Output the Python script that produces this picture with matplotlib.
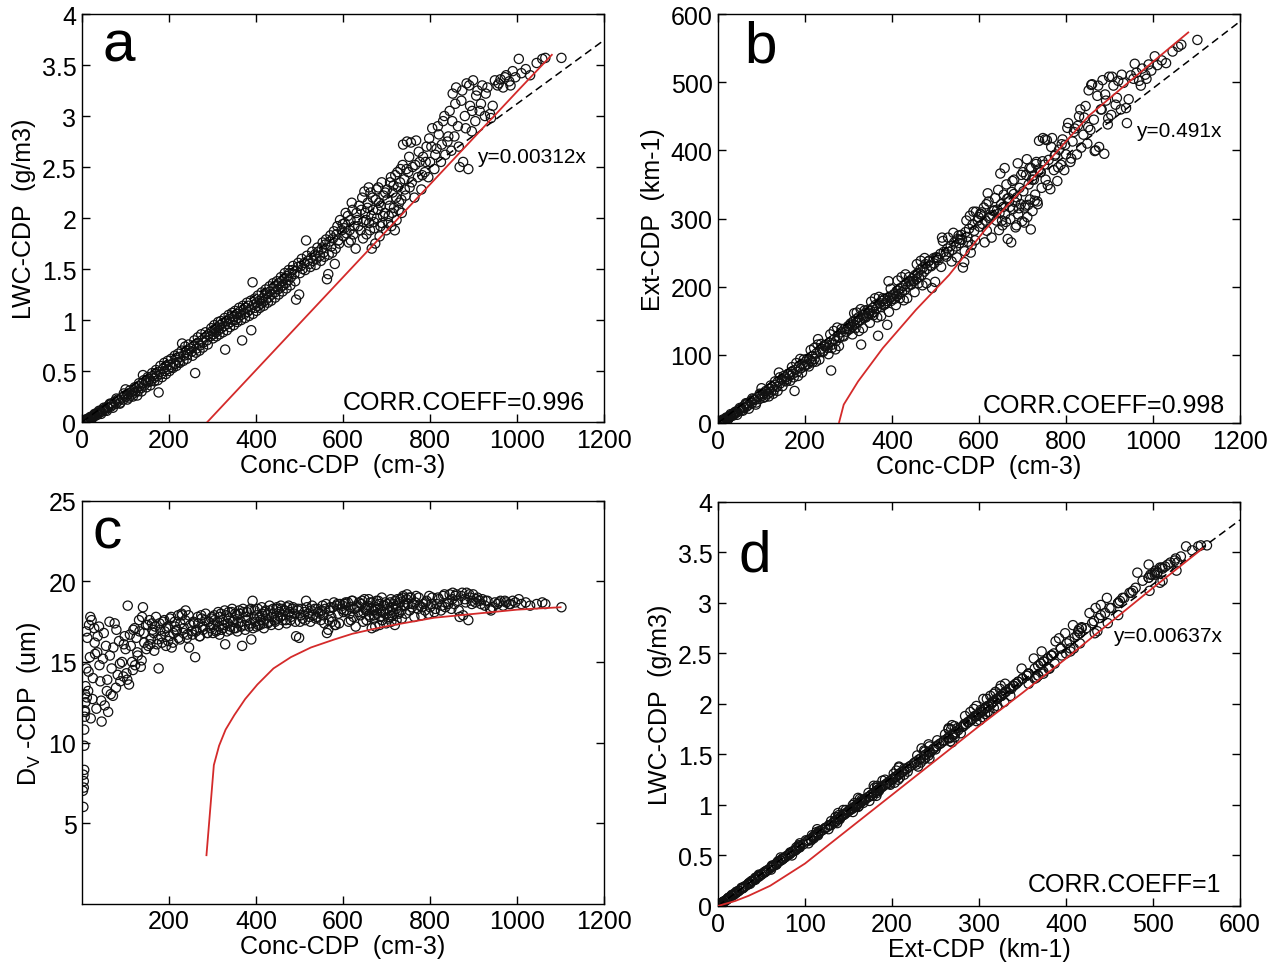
import numpy as np
import matplotlib.pyplot as plt

plt.rcParams['font.family'] = ['Liberation Sans', 'DejaVu Sans']
plt.rcParams['mathtext.fontset'] = 'custom'
plt.rcParams['mathtext.rm'] = 'Liberation Sans'

# one sample per point, shared by all four panels
conc = [3, 4, 4, 5, 5, 6, 6, 7, 8, 8,
        10, 12, 14, 16, 18, 20, 22, 25, 28, 30,
        33, 36, 40, 42, 45, 48,
        52, 55, 58, 60, 63, 66, 68, 72, 75, 78,
        82, 85, 88, 92, 95, 98, 100,
        102, 105, 108, 112, 115, 118, 122, 125, 128, 132,
        135, 138, 140, 143, 147,
        152, 155, 158, 162, 165, 168, 172, 176, 178, 182,
        186, 190, 194, 198,
        202, 206, 210, 214, 218, 222, 226, 230, 234, 238,
        242, 246, 249,
        252, 256, 260, 263, 267, 271, 275, 279, 283, 287,
        291, 295, 299,
        302, 305, 308, 311, 314, 317, 320, 323, 326, 329,
        332, 335, 338, 341, 344, 347,
        350, 353, 356, 359, 362, 365, 368, 371, 374, 377,
        380, 383, 386, 389, 392, 395, 398,
        402, 405, 408, 411, 414, 417, 420, 423, 426, 429,
        432, 436, 440, 443, 447,
        450, 453, 456, 459, 462, 465, 468, 471, 474, 477,
        480, 484, 488, 492, 496, 499,
        503, 507, 511, 515, 519, 523, 527, 531, 535, 539,
        543, 547,
        551, 555, 559, 563, 566, 569, 573, 577, 581, 585,
        589, 593, 597,
        601, 604, 608, 611, 615, 618, 622, 626, 629, 633,
        637, 640, 644, 647,
        651, 654, 657, 660, 663, 666, 669, 672, 675, 678,
        681, 684, 687, 690, 693, 696, 699,
        702, 705, 708, 711, 714, 717, 720, 723, 726, 729,
        732, 735, 738, 741, 744, 747, 750,
        753, 756, 760, 764, 768, 772, 776, 780, 784, 788,
        792, 796,
        800, 805, 810, 815, 820, 825, 830, 835, 840, 845,
        849,
        852, 856, 860, 864, 868, 872, 876, 880, 884, 888,
        892, 896, 899,
        904, 909, 914, 920, 926, 932, 938, 944, 949, 955,
        962, 968, 975, 982, 990, 996,
        1004, 1010, 1020, 1030, 1045, 1058, 1065, 1102,
        # second pass over the cloud
        2, 3, 5, 7, 9, 11, 15, 19, 24, 29,
        35, 39, 44, 50, 57, 64, 71, 79, 87, 96,
        104, 110, 117, 121, 127, 131, 137, 142, 148, 151,
        157, 161, 166, 170, 174, 180, 184, 189, 193, 197,
        201, 205, 209, 213, 217, 221, 225, 229, 233, 237,
        241, 245, 254, 258, 262, 266, 270, 274, 278, 284,
        289, 297,
        301, 304, 309, 313, 316, 319, 324, 328, 333, 337,
        340, 345, 349, 352, 357, 361, 366, 370, 375, 379,
        384, 388, 393, 397,
        401, 404, 409, 413, 418, 422, 427, 431, 435, 439,
        444, 448, 452, 457, 461, 466, 470, 475, 479, 485,
        490, 497,
        501, 505, 513, 517, 525, 529, 537, 541, 549, 553,
        557, 561, 567, 571, 575, 579, 583, 587, 591, 599,
        603, 606, 613, 617, 620, 624, 631, 635, 642, 646,
        649, 653, 656, 659, 662, 665, 668, 671, 674, 677,
        680, 683, 686, 689, 692, 697,
        701, 704, 707, 710, 713, 716, 719, 722, 725, 728,
        731, 734, 737, 742, 746, 752, 758, 766, 774, 782,
        790, 798,
        803, 812, 818, 827, 833, 842, 851, 858, 866, 874,
        882, 890, 897, 906, 917, 928, 940, 958, 972, 985]

lwc = [0.00, 0.00, 0.00, 0.00, 0.01, 0.01, 0.01, 0.01, 0.01, 0.01,
       0.02, 0.02, 0.03, 0.03, 0.04, 0.04, 0.05, 0.05, 0.07, 0.06,
       0.08, 0.09, 0.09, 0.11, 0.10, 0.12,
       0.13, 0.12, 0.15, 0.14, 0.17, 0.15, 0.18, 0.17, 0.20, 0.18,
       0.22, 0.21, 0.19, 0.24, 0.22, 0.26, 0.32,
       0.25, 0.27, 0.24, 0.29, 0.27, 0.31, 0.29, 0.33, 0.30, 0.35,
       0.33, 0.38, 0.46, 0.36, 0.40,
       0.39, 0.42, 0.40, 0.45, 0.43, 0.47, 0.45, 0.29, 0.49, 0.47,
       0.52, 0.50, 0.54, 0.52,
       0.56, 0.54, 0.58, 0.57, 0.61, 0.59, 0.64, 0.77, 0.65, 0.68,
       0.66, 0.70, 0.72,
       0.69, 0.74, 0.48, 0.72, 0.77, 0.75, 0.80, 0.78, 0.83, 0.80,
       0.86, 0.84, 0.89,
       0.86, 0.91, 0.88, 0.93, 0.90, 0.95, 0.92, 0.97, 0.94, 0.71,
       0.99, 0.96, 1.01, 0.98, 1.04, 1.00,
       1.03, 1.00, 1.06, 1.02, 1.08, 1.05, 0.80, 1.10, 1.06, 1.12,
       1.08, 1.14, 1.10, 0.90, 1.37, 1.15, 1.12,
       1.17, 1.14, 1.19, 1.16, 1.21, 1.18, 1.24, 1.20, 1.26, 1.22,
       1.28, 1.25, 1.31, 1.27, 1.33,
       1.30, 1.36, 1.32, 1.38, 1.34, 1.41, 1.36, 1.43, 1.39, 1.46,
       1.42, 1.49, 1.45, 1.20, 1.52, 1.25,
       1.53, 1.50, 1.56, 1.78, 1.58, 1.55, 1.61, 1.58, 1.64, 1.60,
       1.67, 1.63,
       1.70, 1.66, 1.74, 1.40, 1.45, 1.77, 1.72, 1.80, 1.55, 1.84,
       1.78, 1.98, 1.88,
       1.82, 1.95, 1.85, 2.02, 1.88, 1.78, 2.08, 1.92, 1.70, 1.98,
       2.12, 1.88, 2.20, 1.96,
       2.05, 1.84, 2.15, 1.95, 2.25, 1.70, 2.08, 1.90, 2.18, 2.00,
       2.30, 1.82, 2.12, 1.95, 2.22, 2.05, 1.88,
       2.18, 2.02, 2.35, 1.92, 2.25, 2.10, 2.42, 1.98, 2.30, 2.15,
       2.48, 2.05, 2.72, 2.38, 2.22, 2.75, 2.45,
       2.30, 2.74, 2.50, 2.20, 2.76, 2.40, 2.55, 2.28, 2.60, 2.45,
       2.70, 2.40,
       2.55, 2.88, 2.48, 2.68, 2.82, 2.55, 2.95, 2.62, 2.75, 3.05,
       2.66,
       3.22, 2.80, 3.28, 2.90, 2.50, 3.15, 2.55, 3.00, 3.32, 2.48,
       3.10, 2.85, 3.35,
       2.95, 3.25, 3.05, 3.30, 3.00, 3.28, 3.02, 3.10, 3.35, 3.30,
       3.36, 3.28, 3.40, 3.34, 3.44, 3.38,
       3.56, 3.42, 3.46, 3.40, 3.52, 3.56, 3.57, 3.57,
       # second pass
       0.00, 0.00, 0.01, 0.02, 0.01, 0.03, 0.02, 0.05, 0.04, 0.08,
       0.07, 0.11, 0.08, 0.14, 0.11, 0.18, 0.14, 0.23, 0.18, 0.28,
       0.22, 0.31, 0.25, 0.34, 0.26, 0.38, 0.30, 0.41, 0.34, 0.44,
       0.36, 0.48, 0.40, 0.51, 0.41, 0.55, 0.44, 0.58, 0.47, 0.60,
       0.50, 0.62, 0.53, 0.65, 0.55, 0.67, 0.58, 0.70, 0.60, 0.74,
       0.62, 0.76, 0.65, 0.80, 0.68, 0.83, 0.70, 0.86, 0.73, 0.88,
       0.76, 0.92,
       0.82, 0.95, 0.84, 0.98, 0.86, 0.99, 0.88, 1.02, 0.90, 1.05,
       0.93, 1.07, 0.95, 1.09, 0.98, 1.12, 1.00, 1.14, 1.02, 1.17,
       1.04, 1.19, 1.06, 1.21,
       1.09, 1.24, 1.12, 1.27, 1.14, 1.30, 1.17, 1.33, 1.19, 1.36,
       1.22, 1.38, 1.25, 1.42, 1.28, 1.46, 1.31, 1.49, 1.34, 1.53,
       1.38, 1.56,
       1.46, 1.60, 1.49, 1.63, 1.52, 1.67, 1.54, 1.71, 1.58, 1.76,
       1.62, 1.79, 1.64, 1.83, 1.66, 1.87, 1.70, 1.92, 1.75, 1.94,
       1.90, 2.05, 1.76, 1.98, 2.15, 1.84, 2.05, 1.92, 2.08, 1.80,
       2.26, 1.98, 2.10, 2.30, 1.88, 2.02, 2.20, 1.96, 1.75, 2.28,
       2.08, 2.15, 1.92, 2.35, 2.02, 2.25,
       2.28, 1.95, 2.12, 2.40, 2.05, 2.32, 1.88, 2.20, 2.45, 2.08,
       2.35, 2.18, 2.52, 2.28, 2.48, 2.60, 2.35, 2.52, 2.65, 2.42,
       2.55, 2.78,
       2.70, 2.62, 2.90, 2.72, 3.00, 2.80, 2.95, 3.12, 2.70, 3.25,
       2.88, 3.30, 3.05, 3.20, 3.12, 3.22, 2.98, 3.32, 3.38, 3.30]

ext = [0, 0, 1, 1, 1, 1, 1, 2, 2, 2,
       3, 3, 4, 5, 6, 6, 8, 8, 11, 10,
       12, 14, 14, 17, 16, 19,
       21, 19, 24, 22, 27, 24, 29, 27, 32, 29,
       35, 34, 30, 38, 35, 42, 51,
       40, 43, 38, 46, 43, 50, 46, 53, 48, 56,
       53, 61, 74, 58, 64,
       62, 67, 64, 72, 69, 75, 72, 47, 78, 75,
       83, 80, 86, 83,
       90, 86, 93, 91, 98, 94, 102, 123, 104, 109,
       106, 112, 115,
       110, 118, 77, 115, 123, 120, 128, 125, 133, 128,
       138, 134, 142,
       138, 146, 141, 149, 144, 152, 147, 155, 150, 115,
       158, 154, 161, 157, 166, 160,
       165, 160, 169, 163, 173, 168, 128, 176, 170, 179,
       173, 182, 176, 144, 208, 184, 179,
       187, 182, 190, 186, 194, 189, 198, 192, 201, 195,
       204, 200, 208, 203, 212,
       208, 217, 211, 220, 214, 225, 217, 228, 222, 233,
       226, 237, 231, 198, 242, 207,
       243, 239, 248, 272, 251, 247, 256, 251, 260, 254,
       265, 259,
       270, 264, 276, 228, 236, 280, 273, 285, 250, 291,
       282, 310, 297,
       288, 306, 292, 316, 297, 282, 325, 303, 272, 311,
       330, 297, 342, 308,
       321, 290, 335, 306, 350, 270, 325, 299, 339, 314,
       357, 287, 331, 306, 345, 321, 296,
       340, 316, 364, 302, 350, 328, 374, 311, 357, 335,
       383, 321, 414, 368, 345, 418, 379,
       357, 415, 386, 343, 418, 371, 394, 355, 401, 379,
       416, 371,
       394, 440, 383, 413, 432, 394, 450, 404, 423, 465,
       410,
       488, 430, 497, 445, 400, 480, 405, 460, 503, 395,
       473, 438, 508,
       452, 495, 467, 502, 460, 499, 462, 475, 510, 505,
       514, 502, 520, 511, 526, 517,
       538, 525, 532, 528, 545, 552, 555, 562,
       # second pass
       0, 1, 2, 3, 1, 5, 3, 8, 6, 13,
       11, 16, 12, 22, 18, 29, 21, 36, 27, 43,
       37, 47, 39, 55, 43, 61, 47, 67, 54, 69,
       61, 72, 62, 82, 67, 88, 69, 94, 74, 93,
       85, 94, 83, 107, 89, 110, 90, 115, 93, 116,
       104, 114, 101, 130, 110, 135, 108, 140, 113, 138,
       127, 138,
       137, 144, 130, 161, 139, 162, 135, 167, 139, 165,
       155, 161, 147, 178, 158, 183, 155, 185, 157, 183,
       174, 179, 163, 197,
       182, 189, 173, 209, 183, 214, 180, 218, 183, 214,
       203, 208, 192, 233, 205, 238, 202, 242, 205, 238,
       230, 234,
       243, 242, 229, 267, 244, 272, 237, 279, 243, 275,
       269, 269, 252, 297, 266, 304, 261, 310, 268, 302,
       307, 309, 265, 321, 337, 301, 305, 312, 313, 283,
       366, 297, 317, 374, 295, 329, 330, 317, 265, 355,
       336, 324, 290, 381, 315, 364,
       368, 294, 319, 387, 320, 374, 284, 357, 363, 326,
       380, 325, 372, 368, 384, 416, 349, 405, 392, 375,
       409, 408,
       433, 388, 427, 436, 460, 448, 434, 496, 399, 495,
       460, 482, 447, 508, 477, 511, 440, 527, 495, 505]

dv = [6.0, 7.2, 7.6, 8.3, 9.8, 11.6, 12.0, 11.9, 12.5, 13.5,
      14.6, 16.5, 13.2, 17.3, 15.3, 11.5, 17.6, 14.0, 17.1, 15.5,
      12.1, 16.6, 14.8, 13.8, 11.3, 15.2,
      12.3, 16.0, 13.9, 11.9, 17.5, 13.0, 14.6, 15.9, 17.4, 13.4,
      14.2, 16.3, 13.8, 15.0, 14.1, 16.6, 15.8,
      14.3, 18.5, 13.6, 16.0, 15.0, 17.0, 14.8, 16.5, 15.4, 16.9,
      14.7, 17.8, 18.4, 16.2, 17.3,
      16.0, 17.6, 16.4, 17.0, 16.8, 17.2, 16.1, 14.6, 17.4, 16.6,
      17.5, 16.9, 17.1, 16.3,
      17.7, 15.9, 16.8, 17.2, 17.0, 16.5, 17.4, 17.9, 17.1, 18.2,
      16.7, 15.9, 17.3,
      16.9, 17.5, 15.3, 17.0, 17.4, 16.6, 17.7, 17.2, 17.6, 16.8,
      17.5, 17.1, 17.8,
      17.3, 17.6, 16.9, 17.5, 17.2, 17.8, 17.0, 17.6, 17.3, 16.1,
      17.9, 17.4, 17.7, 17.2, 18.1, 17.5,
      17.6, 17.1, 17.9, 17.4, 18.0, 17.5, 16.0, 18.1, 17.3, 17.8,
      17.6, 18.2, 17.4, 16.4, 18.8, 17.7, 17.5,
      17.9, 17.3, 17.8, 17.6, 18.0, 17.4, 18.1, 17.7, 17.9, 17.5,
      18.2, 17.8, 18.0, 17.6, 18.3,
      17.7, 18.1, 17.8, 18.3, 17.9, 18.2, 17.6, 18.4, 18.0, 18.1,
      17.8, 18.3, 18.0, 16.6, 18.2, 16.5,
      17.9, 17.7, 18.1, 18.8, 18.0, 17.8, 18.2, 17.9, 18.3, 17.8,
      18.1, 18.0,
      18.2, 17.9, 18.3, 16.8, 17.0, 18.2, 17.8, 18.4, 17.3, 18.5,
      18.0, 18.6, 18.3,
      18.1, 18.6, 18.2, 18.7, 18.0, 17.6, 18.8, 18.3, 17.2, 18.4,
      18.7, 17.9, 18.8, 18.1,
      18.3, 17.6, 18.5, 17.9, 18.7, 17.1, 18.2, 17.7, 18.4, 18.0,
      18.8, 17.3, 18.2, 17.6, 18.5, 18.0, 17.4,
      18.3, 17.8, 18.7, 17.5, 18.4, 18.0, 18.8, 17.6, 18.5, 18.1,
      18.9, 17.7, 19.1, 18.5, 18.0, 19.2, 18.6,
      18.2, 19.0, 18.6, 17.8, 19.1, 18.3, 18.5, 17.9, 18.6, 18.2,
      18.8, 18.0,
      18.4, 19.0, 18.1, 18.6, 18.9, 18.2, 19.1, 18.4, 18.7, 19.2,
      18.3,
      19.3, 18.6, 19.2, 18.8, 17.8, 19.1, 17.9, 18.9, 19.3, 17.6,
      19.0, 18.6, 19.2,
      18.7, 19.0, 18.8, 18.9, 18.5, 18.8, 18.3, 18.4, 18.7, 18.6,
      18.8, 18.5, 18.7, 18.6, 18.8, 18.7,
      18.9, 18.6, 18.7, 18.5, 18.6, 18.7, 18.6, 18.4,
      # second pass
      7.0, 8.0, 10.8, 13.0, 16.9, 12.8, 14.4, 17.8, 12.7, 16.2,
      15.6, 17.2, 12.6, 16.8, 13.2, 15.4, 12.9, 17.0, 14.9, 16.1,
      13.9, 16.7, 14.5, 17.1, 15.6, 17.6, 15.1, 16.8, 15.8, 17.3,
      16.1, 17.4, 15.7, 17.8, 16.4, 17.0, 16.2, 17.6, 16.0, 17.2,
      16.6, 17.8, 16.2, 17.5, 16.9, 17.9, 16.4, 18.0, 16.8, 17.6,
      16.5, 17.9, 16.7, 17.4, 16.9, 17.8, 16.6, 17.9, 17.0, 18.0,
      16.8, 17.7,
      16.8, 17.9, 17.0, 18.1, 16.7, 18.0, 17.1, 18.2, 16.9, 18.1,
      17.0, 18.3, 17.1, 18.0, 16.9, 18.2, 17.2, 18.3, 17.0, 18.1,
      17.2, 18.3, 17.1, 18.2,
      17.2, 18.3, 17.3, 18.4, 17.1, 18.2, 17.4, 18.5, 17.3, 18.3,
      17.5, 18.4, 17.3, 18.5, 17.6, 18.2, 17.4, 18.5, 17.6, 18.4,
      17.5, 18.3,
      17.5, 18.3, 17.6, 18.4, 17.5, 18.5, 17.7, 18.3, 17.6, 18.5,
      17.4, 18.6, 17.6, 18.4, 17.5, 18.7, 17.3, 18.6, 17.4, 18.5,
      18.2, 18.7, 17.5, 18.4, 18.8, 17.8, 18.5, 18.1, 18.6, 17.5,
      18.9, 18.2, 18.4, 18.9, 17.8, 18.3, 18.7, 17.9, 17.2, 18.8,
      18.3, 18.6, 17.8, 19.0, 18.1, 18.7,
      18.6, 17.7, 18.2, 18.9, 17.9, 18.6, 17.3, 18.3, 18.9, 18.0,
      18.7, 18.2, 19.0, 18.5, 18.9, 19.0, 18.4, 18.7, 19.0, 18.4,
      18.7, 19.1,
      18.6, 18.3, 19.0, 18.5, 19.2, 18.6, 18.9, 19.1, 18.2, 19.3,
      18.7, 19.2, 18.8, 18.9, 18.6, 18.8, 18.2, 18.7, 18.8, 18.6]

# red reference curves
red_a_conc = [288, 400, 600, 800, 1000, 1080]
red_a_lwc = [0.0, 0.51, 1.42, 2.33, 3.24, 3.60]
red_b_conc = [278, 289, 322, 379, 455, 531, 616, 758, 853, 1000, 1081]
red_b_ext = [0, 27, 61, 110, 166, 217, 285, 383, 451, 530, 573]
red_c_conc = [286, 303, 315, 330, 350, 375, 403, 440, 480, 526, 580, 621,
              670, 716, 810, 905, 1000, 1100]
red_c_dv = [3.0, 8.6, 9.8, 10.8, 11.7, 12.7, 13.6, 14.6, 15.3, 15.9, 16.4, 16.75,
            17.05, 17.3, 17.75, 18.0, 18.25, 18.4]
red_d_ext = [0, 20, 35, 60, 100, 150, 200, 250, 300, 350, 400, 450, 500, 557]
red_d_lwc = [0, 0.05, 0.10, 0.20, 0.42, 0.76, 1.10, 1.44, 1.78, 2.11, 2.45, 2.80, 3.15, 3.54]

slope_a = 0.00312
slope_b = 0.491
slope_d = 0.00637

RED = '#d42a2a'
FS = 18


def style(ax, xlim, ylim, xticks, yticks):
    ax.set_xlim(xlim)
    ax.set_ylim(ylim)
    ax.set_xticks(xticks)
    ax.set_yticks(yticks)
    ax.set_xticklabels(['%g' % t for t in xticks])
    ax.set_yticklabels(['%g' % t for t in yticks])
    ax.tick_params(direction='in', length=6, width=1.0, top=True, right=True,
                   labelsize=FS, pad=4)
    for s in ax.spines.values():
        s.set_linewidth(1.0)


def cloud(ax, x, y):
    ax.scatter(x, y, s=44, facecolors='none', edgecolors='#111111',
               linewidths=0.9, zorder=2)


fig = plt.figure(figsize=(12.76, 9.70), dpi=100)
ax_a = fig.add_axes([0.0643, 0.5639, 0.4091, 0.4206])
ax_b = fig.add_axes([0.5627, 0.5629, 0.4091, 0.4216])
ax_c = fig.add_axes([0.0643, 0.0675, 0.4091, 0.4150])
ax_d = fig.add_axes([0.5627, 0.0650, 0.4091, 0.4165])

# a
cloud(ax_a, conc, lwc)
ax_a.axline((0, 0), slope=slope_a, color='k', ls=(0, (5, 3)), lw=1.1, zorder=3)
ax_a.plot(red_a_conc, red_a_lwc, color=RED, lw=1.3, zorder=4)
style(ax_a, (0, 1200), (0, 4), np.arange(0, 1201, 200), np.arange(0, 4.01, 0.5))
ax_a.set_xlabel('Conc-CDP  (cm-3)', fontsize=FS, labelpad=1)
ax_a.set_ylabel('LWC-CDP  (g/m3)', fontsize=FS, labelpad=4)
ax_a.text(0.04, 0.885, 'a', transform=ax_a.transAxes, fontsize=42)
ax_a.text(0.757, 0.652, 'y=%gx' % slope_a, transform=ax_a.transAxes,
          fontsize=15, va='center')
ax_a.text(0.964, 0.049, 'CORR.COEFF=0.996', transform=ax_a.transAxes,
          fontsize=FS, ha='right', va='center')

# b
cloud(ax_b, conc, ext)
ax_b.axline((0, 0), slope=slope_b, color='k', ls=(0, (5, 3)), lw=1.1, zorder=3)
ax_b.plot(red_b_conc, red_b_ext, color=RED, lw=1.3, zorder=4)
style(ax_b, (0, 1200), (0, 600), np.arange(0, 1201, 200), np.arange(0, 601, 100))
ax_b.set_xlabel('Conc-CDP  (cm-3)', fontsize=FS, labelpad=1)
ax_b.set_ylabel('Ext-CDP  (km-1)', fontsize=FS, labelpad=4)
ax_b.text(0.05, 0.885, 'b', transform=ax_b.transAxes, fontsize=42)
ax_b.text(0.80, 0.714, 'y=%gx' % slope_b, transform=ax_b.transAxes,
          fontsize=15, va='center')
ax_b.text(0.971, 0.044, 'CORR.COEFF=0.998', transform=ax_b.transAxes,
          fontsize=FS, ha='right', va='center')

# c
cloud(ax_c, conc, dv)
ax_c.plot(red_c_conc, red_c_dv, color=RED, lw=1.3, zorder=4)
style(ax_c, (0, 1200), (0, 25), np.arange(200, 1201, 200), np.arange(5, 26, 5))
ax_c.set_xlabel('Conc-CDP  (cm-3)', fontsize=FS, labelpad=1)
ax_c.set_ylabel(r'D$_\mathrm{V}$ -CDP  (um)', fontsize=FS, labelpad=4)
ax_c.text(0.02, 0.885, 'c', transform=ax_c.transAxes, fontsize=42)

# d
cloud(ax_d, ext, lwc)
ax_d.axline((0, 0), slope=slope_d, color='k', ls=(0, (5, 3)), lw=1.1, zorder=3)
ax_d.plot(red_d_ext, red_d_lwc, color=RED, lw=1.3, zorder=4)
style(ax_d, (0, 600), (0, 4), np.arange(0, 601, 100), np.arange(0, 4.01, 0.5))
ax_d.set_xlabel('Ext-CDP  (km-1)', fontsize=FS, labelpad=1)
ax_d.set_ylabel('LWC-CDP  (g/m3)', fontsize=FS, labelpad=4)
ax_d.text(0.04, 0.83, 'd', transform=ax_d.transAxes, fontsize=42)
ax_d.text(0.757, 0.67, 'y=%gx' % slope_d, transform=ax_d.transAxes,
          fontsize=15, va='center')
ax_d.text(0.965, 0.054, 'CORR.COEFF=1', transform=ax_d.transAxes,
          fontsize=FS, ha='right', va='center')

fig.savefig('out.png', dpi=100)
